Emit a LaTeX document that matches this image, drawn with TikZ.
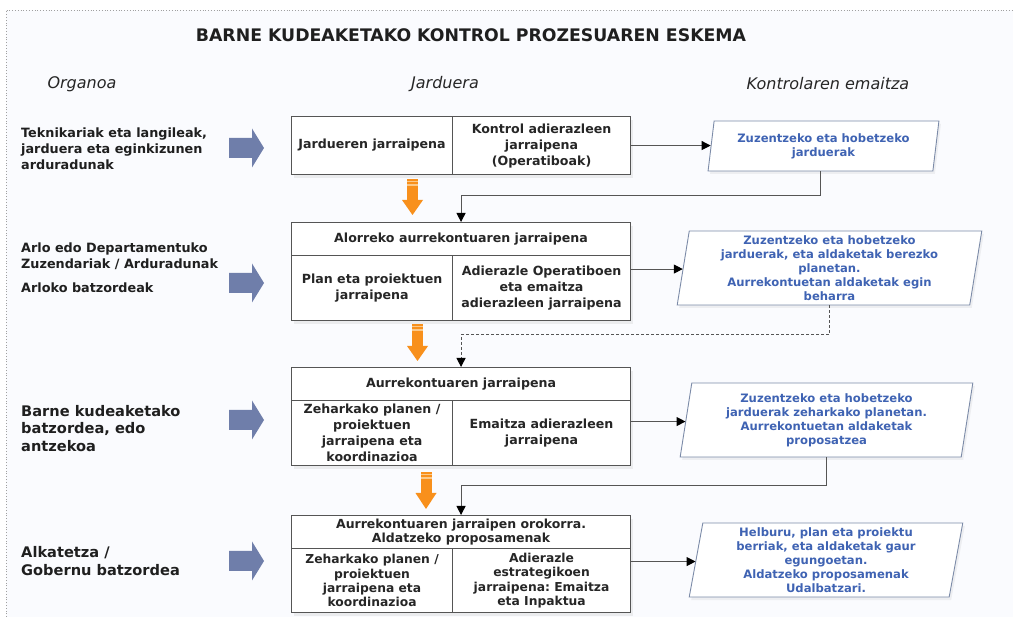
\documentclass[tikz,border=0pt]{standalone}
\usepackage{fontspec}
\setmainfont{DejaVu Sans}
\frenchspacing
\usetikzlibrary{arrows.meta,shapes.geometric,shadows}
\definecolor{bgc}{HTML}{FAFBFE}
\definecolor{lineg}{HTML}{555555}
\definecolor{bluearr}{HTML}{6F7EAA}
\definecolor{orangearr}{HTML}{F8901C}
\definecolor{orangelt}{HTML}{FBC98A}
\definecolor{bluetxt}{HTML}{3F63B3}
\definecolor{pline}{HTML}{7C8BA8}
\definecolor{frameg}{HTML}{A0A0A0}
\begin{document}
\begin{tikzpicture}[x=1pt,y=-1pt,
  cell/.style={draw=lineg, line width=1.1pt, fill=white, anchor=north west, inner sep=1pt,
    align=center, font=\fontsize{12.6}{16}\selectfont\bfseries, text=black!85,
    drop shadow={opacity=0.12, shadow xshift=2pt, shadow yshift=-3pt}},
  tighth/.style={font=\fontsize{12.5}{13.2}\selectfont\bfseries},
  tight/.style={font=\fontsize{12.3}{14.2}\selectfont\bfseries},
  pbox/.style={shape=trapezium, trapezium stretches=true, draw=pline, line width=0.9pt,
    fill=white, inner sep=1pt, align=center, text=bluetxt,
    font=\fontsize{11.6}{14}\selectfont\bfseries,
    drop shadow={opacity=0.10, shadow xshift=2pt, shadow yshift=-3pt}},
  organ/.style={anchor=west, align=left, inner sep=0pt, text=black!88,
    font=\fontsize{12.8}{15.8}\selectfont\bfseries},
  organbig/.style={organ, font=\fontsize{14.6}{17.6}\selectfont\bfseries},
  head/.style={font=\fontsize{16}{19}\selectfont\itshape, text=black!85, inner sep=0pt},
  conn/.style={draw=lineg, line width=1pt, -{Triangle[length=9pt,width=9pt,color=black]}},
  ]
\useasboundingbox (0,0) rectangle (1013,617);
\fill[white] (0,0) rectangle (1013,617);
\fill[bgc] (6,10) rectangle (1013,617);
\draw[frameg, line width=0.8pt, dotted] (6,617) -- (6,10) -- (1013,10);

% title and column headers
\node[inner sep=0pt, font=\fontsize{17.3}{20}\selectfont\bfseries, text=black!88] (title) at (471,35)
  {BARNE KUDEAKETAKO KONTROL PROZESUAREN ESKEMA};
\node[head] (h1) at (82,84) {Organoa};
\node[head] (h2) at (445,84) {Jarduera};
\node[head] (h3) at (828,84) {Kontrolaren emaitza};

% organ labels
\node[organ] (o1) at (21,149) {Teknikariak eta langileak,\\jarduera eta eginkizunen\\arduradunak};
\node[organ] (o2) at (21,268) {Arlo edo Departamentuko\\Zuzendariak / Arduradunak\\[8pt]Arloko batzordeak};
\node[organbig] (o3) at (21,428.5) {Barne kudeaketako\\batzordea, edo\\antzekoa};
\node[organbig] (o4) at (21,561) {Alkatetza /\\Gobernu batzordea};

% blue arrows
\foreach \yy in {148,283,420,561}{
  \fill[bluearr] (229,\yy-10) -- (252,\yy-10) -- (252,\yy-19.5) -- (264,\yy)
     -- (252,\yy+19.5) -- (252,\yy+10) -- (229,\yy+10) -- cycle;
}

% row 1
\node[cell, minimum width=161pt, minimum height=58pt] (r1L) at (291,116) {Jardueren jarraipena};
\node[cell, minimum width=178pt, minimum height=58pt] (r1R) at (452,116) {Kontrol adierazleen\\jarraipena\\(Operatiboak)};

% row 2
\node[cell, minimum width=339pt, minimum height=33pt] (r2H) at (291,222) {Alorreko aurrekontuaren jarraipena};
\node[cell, minimum width=161pt, minimum height=65pt] (r2L) at (291,255) {Plan eta proiektuen\\jarraipena};
\node[cell, minimum width=178pt, minimum height=65pt] (r2R) at (452,255) {Adierazle Operatiboen\\eta emaitza\\adierazleen jarraipena};

% row 3
\node[cell, minimum width=339pt, minimum height=33pt] (r3H) at (291,367) {Aurrekontuaren jarraipena};
\node[cell, minimum width=161pt, minimum height=65pt] (r3L) at (291,400) {Zeharkako planen /\\proiektuen\\jarraipena eta\\koordinazioa};
\node[cell, minimum width=178pt, minimum height=65pt] (r3R) at (452,400) {Emaitza adierazleen\\jarraipena};

% row 4
\node[cell, tighth, minimum width=339pt, minimum height=33pt] (r4H) at (291,515) {Aurrekontuaren jarraipen orokorra.\\Aldatzeko proposamenak};
\node[cell, tight, minimum width=161pt, minimum height=64pt] (r4L) at (291,548) {Zeharkako planen /\\proiektuen\\jarraipena eta\\koordinazioa};
\node[cell, tight, minimum width=178pt, minimum height=64pt] (r4R) at (452,548) {Adierazle\\estrategikoen\\jarraipena: Emaitza\\eta Inpaktua};

% orange arrows
\foreach \xc/\ta/\hb/\tb in {412.5/179/200/215, 417.5/324/346/361, 426/472/493/509}{
  \fill[orangearr] (\xc-5.5,\ta) rectangle (\xc+5.5,\hb);
  \fill[orangearr] (\xc-10.5,\hb) -- (\xc+10.5,\hb) -- (\xc,\tb) -- cycle;
  \fill[orangelt] (\xc-5.5,\ta+2) rectangle (\xc+5.5,\ta+3.2);
  \fill[orangelt] (\xc-5.5,\ta+5.5) rectangle (\xc+5.5,\ta+6.7);
}

% result parallelograms
\node[pbox, trapezium left angle=80, trapezium right angle=100, minimum width=231pt, minimum height=50pt] (p1) at (823.5,146)
  {Zuzentzeko eta hobetzeko\\jarduerak};
\node[pbox, trapezium left angle=82, trapezium right angle=98, minimum width=305pt, minimum height=74pt] (p2) at (829.5,268)
  {Zuzentzeko eta hobetzeko\\jarduerak, eta aldaketak berezko\\planetan.\\Aurrekontuetan aldaketak egin\\beharra};
\node[pbox, trapezium left angle=81, trapezium right angle=99, minimum width=293pt, minimum height=74pt] (p3) at (826.5,420)
  {Zuzentzeko eta hobetzeko\\jarduerak zeharkako planetan.\\Aurrekontuetan aldaketak\\proposatzea};
\node[pbox, trapezium left angle=81.5, trapezium right angle=98.5, minimum width=274pt, minimum height=74pt] (p4) at (826,560)
  {Helburu, plan eta proiektu\\berriak, eta aldaketak gaur\\egungoetan.\\Aldatzeko proposamenak\\Udalbatzari.};

% connectors box -> result
\draw[conn] (r1R.east) -- (r1R.east -| p1.west);
\draw[conn] ([yshift=19pt]r2R.east) -- ([yshift=19pt]r2R.east -| p2.west);
\draw[conn] ([yshift=11.5pt]r3R.east) -- ([yshift=11.5pt]r3R.east -| p3.west);
\draw[conn] ([yshift=19pt]r4R.east) -- ([yshift=19pt]r4R.east -| p4.west);

% feedback connectors
\draw[conn] ([xshift=-3.5pt]p1.south) |- ([yshift=26pt]r2H.north) -- (r2H.north);
\draw[conn, dashed, dash pattern=on 3pt off 2pt] (p2.south) |- ([yshift=32pt]r3H.north) -- (r3H.north);
\draw[conn] (p3.south) |- ([yshift=29pt]r4H.north) -- (r4H.north);
\end{tikzpicture}
\end{document}
